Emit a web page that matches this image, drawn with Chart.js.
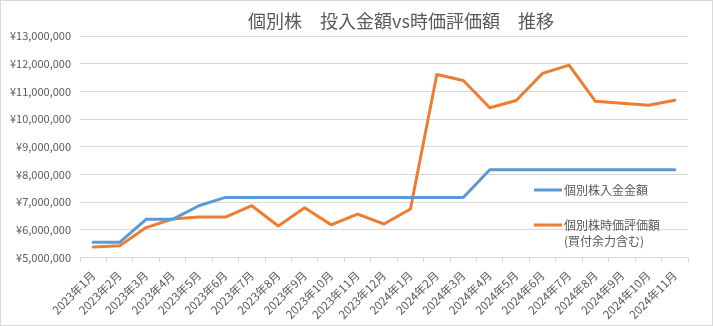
<!DOCTYPE html>
<html><head><meta charset="utf-8">
<script src="https://cdn.jsdelivr.net/npm/chart.js@4.4.1/dist/chart.umd.min.js"></script>
<style>
html,body{margin:0;padding:0;background:#fff;}
#wrap{position:relative;width:713px;height:326px;}
#frame{position:absolute;left:0;top:0;width:713px;height:326px;box-sizing:border-box;border:1px solid #d9d9d9;pointer-events:none;}
canvas{display:block;}
</style></head><body>
<div id="wrap"><canvas id="c" width="713" height="326"></canvas><div id="frame"></div></div>
<script>
const categories = ['2023年1月','2023年2月','2023年3月','2023年4月','2023年5月','2023年6月','2023年7月','2023年8月','2023年9月','2023年10月','2023年11月','2023年12月','2024年1月','2024年2月','2024年3月','2024年4月','2024年5月','2024年6月','2024年7月','2024年8月','2024年9月','2024年10月','2024年11月'];
const depositValues = [5550000,5550000,6380000,6380000,6870000,7170000,7170000,7170000,7170000,7170000,7170000,7170000,7170000,7170000,7170000,8170000,8170000,8170000,8170000,8170000,8170000,8170000,8170000];
const marketValues = [5380000,5420000,6080000,6390000,6460000,6460000,6870000,6140000,6800000,6180000,6570000,6210000,6750000,11610000,11390000,10410000,10670000,11650000,11950000,10640000,10570000,10500000,10680000];
const yMin = 5000000, yMax = 13000000, yStep = 1000000;
const titleText = '個別株　投入金額vs時価評価額　推移';
const depositName = '個別株入金金額';
const marketName = '個別株時価評価額(買付余力含む)';

const BLUE = '#5B9BD5', ORANGE = '#ED7D31', TXT = '#595959', GRID = '#d9d9d9';
const JP = '"Noto Sans CJK JP", "Noto Sans", sans-serif';

const titlePlugin = {
  id: 'customTitle',
  afterDraw(chart) {
    const ctx = chart.ctx;
    ctx.save();
    ctx.font = '18px ' + JP;
    ctx.fillStyle = TXT;
    ctx.textAlign = 'center';
    ctx.textBaseline = 'middle';
    ctx.fillText(titleText, 401, 21);
    ctx.restore();
  }
};

const legendPlugin = {
  id: 'insideLegend',
  afterDatasetsDraw(chart) {
    const ctx = chart.ctx;
    const ca = chart.chartArea;
    const x0 = ca.right - 154, x1 = ca.right - 126, tx = ca.right - 124;
    const rows = [
      {color: chart.data.datasets[0].borderColor, lines: [chart.data.datasets[0].label], y: 190},
      {color: chart.data.datasets[1].borderColor, lines: chart.data.datasets[1].label.replace('(', '\n(').split('\n'), y: 225}
    ];
    ctx.save();
    ctx.font = '12px ' + JP;
    ctx.fillStyle = TXT;
    ctx.textAlign = 'left';
    ctx.textBaseline = 'middle';
    rows.forEach(r => {
      ctx.strokeStyle = r.color;
      ctx.lineWidth = 3;
      ctx.beginPath();
      ctx.moveTo(x0, r.y); ctx.lineTo(x1, r.y); ctx.stroke();
      r.lines.forEach((t, i) => ctx.fillText(t, tx, r.y + i * 16));
    });
    ctx.restore();
  }
};

new Chart(document.getElementById('c'), {
  type: 'line',
  data: {
    labels: categories,
    datasets: [
      {label: depositName, data: depositValues, borderColor: BLUE, backgroundColor: BLUE, borderWidth: 3, pointRadius: 0, tension: 0, borderJoinStyle: 'round', borderCapStyle: 'round'},
      {label: marketName, data: marketValues, borderColor: ORANGE, backgroundColor: ORANGE, borderWidth: 3, pointRadius: 0, tension: 0, borderJoinStyle: 'round', borderCapStyle: 'round'}
    ]
  },
  options: {
    responsive: false,
    animation: false,
    devicePixelRatio: 1,
    layout: {padding: {left: 0, right: 25, top: 36, bottom: 0}},
    plugins: {legend: {display: false}, title: {display: false}, tooltip: {enabled: false}},
    scales: {
      x: {
        offset: true,
        grid: {offset: true, drawOnChartArea: false, drawTicks: true, tickLength: 5, color: GRID},
        border: {display: true, color: GRID},
        ticks: {autoSkip: false, maxRotation: 45, minRotation: 45, color: TXT, font: {family: JP, size: 11.5}, padding: 6},
        afterFit(s) { s.height = 68.5; }
      },
      y: {
        min: yMin, max: yMax,
        grid: {color: GRID, drawTicks: false},
        border: {display: false},
        ticks: {stepSize: yStep, color: TXT, font: {family: JP, size: 11}, padding: 9,
          callback: v => '¥' + Number(v).toLocaleString('en-US')},
        afterFit(s) { s.width = 80; }
      }
    }
  },
  plugins: [titlePlugin, legendPlugin]
});
</script>
</body></html>
